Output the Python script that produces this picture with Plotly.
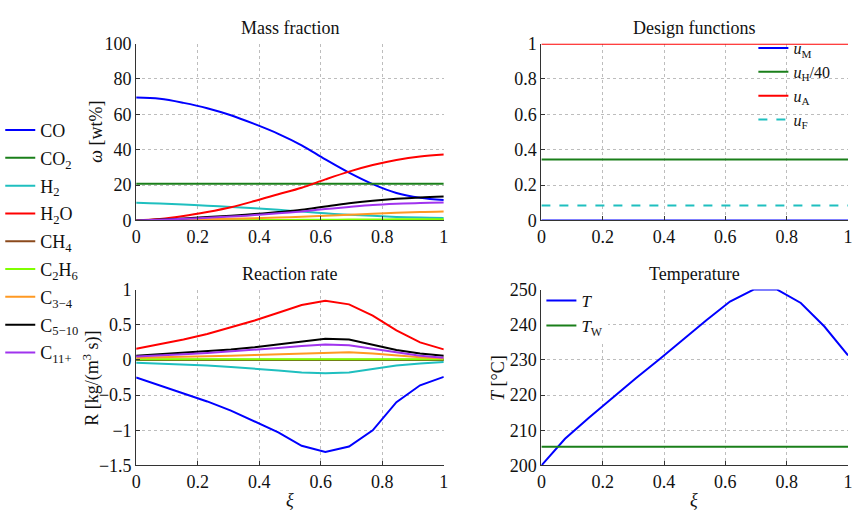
import plotly.graph_objects as go

# Axial coordinate (collocation nodes)
xi = [0.0, 0.077, 0.154, 0.231, 0.308, 0.385, 0.462, 0.538, 0.615, 0.692, 0.769, 0.846, 0.923, 1.0]

species = ["CO", "CO<sub>2</sub>", "H<sub>2</sub>", "H<sub>2</sub>O", "CH<sub>4</sub>",
           "C<sub>2</sub>H<sub>6</sub>", "C<sub>3−4</sub>", "C<sub>5−10</sub>", "C<sub>11+</sub>"]
colors = ["#0000ff", "#1a7f1a", "#1fbfbf", "#ff0000", "#8b4a1c",
          "#80ff00", "#ff9922", "#000000", "#a033ee"]

# Mass fractions [wt%]
w_CO    = [69.5, 68.8, 66.5, 63.5, 59.5, 54.5, 49.0, 42.5, 34.5, 27.0, 20.5, 15.5, 12.8, 11.5]
w_CO2   = [20.7] * 14
w_H2    = [10.0, 9.6, 9.0, 8.3, 7.6, 6.9, 6.0, 5.0, 4.0, 3.2, 2.6, 2.0, 1.6, 1.4]
w_H2O   = [0.0, 0.8, 2.5, 4.8, 7.5, 11.0, 14.8, 18.5, 23.2, 27.6, 31.3, 34.2, 36.2, 37.3]
w_CH4   = [0.0, 0.01, 0.02, 0.04, 0.06, 0.08, 0.1, 0.12, 0.15, 0.18, 0.2, 0.22, 0.24, 0.25]
w_C2H6  = [0.0, 0.03, 0.07, 0.1, 0.15, 0.2, 0.25, 0.32, 0.4, 0.48, 0.55, 0.62, 0.67, 0.7]
w_C34   = [0.0, 0.15, 0.35, 0.6, 0.9, 1.2, 1.6, 2.1, 2.6, 3.2, 3.8, 4.3, 4.8, 5.1]
w_C510  = [0.0, 0.5, 1.1, 1.9, 2.7, 3.6, 4.7, 6.0, 7.9, 9.7, 11.1, 12.2, 13.0, 13.6]
w_C11   = [0.0, 0.4, 0.9, 1.5, 2.2, 3.0, 4.0, 5.1, 6.4, 7.6, 8.7, 9.4, 9.9, 10.1]

# Reaction rates [kg/(m^3 s)]
r_CO    = [-0.25, -0.36, -0.47, -0.59, -0.72, -0.87, -1.03, -1.22, -1.31, -1.23, -1.0, -0.6, -0.36, -0.24]
r_CO2   = [0.0] * 14
r_H2    = [-0.04, -0.05, -0.065, -0.08, -0.1, -0.12, -0.15, -0.18, -0.19, -0.18, -0.13, -0.08, -0.05, -0.03]
r_H2O   = [0.16, 0.22, 0.29, 0.37, 0.46, 0.56, 0.67, 0.78, 0.84, 0.79, 0.63, 0.42, 0.25, 0.15]
r_CH4   = [0.003, 0.003, 0.004, 0.004, 0.005, 0.005, 0.006, 0.007, 0.008, 0.008, 0.007, 0.005, 0.004, 0.003]
r_C2H6  = [0.01, 0.01, 0.011, 0.012, 0.013, 0.014, 0.015, 0.017, 0.018, 0.018, 0.016, 0.013, 0.011, 0.01]
r_C34   = [0.03, 0.035, 0.04, 0.05, 0.06, 0.07, 0.08, 0.1, 0.11, 0.11, 0.09, 0.06, 0.04, 0.02]
r_C510  = [0.06, 0.08, 0.1, 0.12, 0.15, 0.18, 0.22, 0.27, 0.30, 0.29, 0.22, 0.14, 0.09, 0.06]
r_C11   = [0.05, 0.06, 0.08, 0.1, 0.12, 0.14, 0.17, 0.20, 0.22, 0.21, 0.16, 0.1, 0.06, 0.03]

# Design functions (constant along the reactor)
xi_ends = [0.0, 1.0]
u_M, u_H40, u_A, u_F = 0.0, 0.345, 1.0, 0.085

# Temperatures [°C]
T  = [200.0, 207.6, 213.5, 219.2, 224.8, 230.2, 235.8, 241.3, 246.6, 250.0, 250.0, 246.2, 239.5, 231.3]
T_W = 205.3

w_all = [w_CO, w_CO2, w_H2, w_H2O, w_CH4, w_C2H6, w_C34, w_C510, w_C11]
r_all = [r_CO, r_CO2, r_H2, r_H2O, r_CH4, r_C2H6, r_C34, r_C510, r_C11]

FONT = "Liberation Serif, Times New Roman, serif"
W, H = 855, 511

fig = go.Figure()

for i, (name, col, w) in enumerate(zip(species, colors, w_all)):
    fig.add_trace(go.Scatter(x=xi, y=w, mode="lines", name=name, line=dict(color=col, width=2, shape="spline"),
                             xaxis="x", yaxis="y", legend="legend", legendgroup=f"g{i}"))
for name, col, r in zip(species, colors, r_all):
    fig.add_trace(go.Scatter(x=xi, y=r, mode="lines", name=name, line=dict(color=col, width=2),
                             xaxis="x3", yaxis="y3", showlegend=False))

design = [("<i>u</i><sub>M</sub>", "#0000ff", u_M, "solid"),
          ("<i>u</i><sub>H</sub>/40", "#1a7f1a", u_H40, "solid"),
          ("<i>u</i><sub>A</sub>", "#ff0000", u_A, "solid"),
          ("<i>u</i><sub>F</sub>", "#1fbfbf", u_F, "dash")]
for j, (name, col, val, dash) in enumerate(design):
    fig.add_trace(go.Scatter(x=xi_ends, y=[val, val], mode="lines", name=name,
                             line=dict(color=col, width=2, dash=dash),
                             xaxis="x2", yaxis="y2", legend="legend2", legendgroup=f"d{j}"))

fig.add_trace(go.Scatter(x=xi, y=T, mode="lines", name="<i>T</i>", line=dict(color="#0000ff", width=2),
                         xaxis="x4", yaxis="y4", legend="legend3", legendgroup="t0"))
fig.add_trace(go.Scatter(x=xi_ends, y=[T_W, T_W], mode="lines", name="<i>T</i><sub>W</sub>",
                         line=dict(color="#1a7f1a", width=2),
                         xaxis="x4", yaxis="y4", legend="legend3", legendgroup="t1"))

# Plot-area geometry in pixels
left_dom = [131 / W, 443 / W]
right_dom = [542 / W, 853 / W]
top_dom = [1 - 219 / H, 1 - 35 / H]
bot_dom = [1 - 474 / H, 1 - 291 / H]

def ax(domain, anchor, rng, dtick):
    return dict(domain=domain, anchor=anchor, range=rng, dtick=dtick, tick0=0,
                showline=True, linecolor="#333333", linewidth=1, mirror=False,
                ticks="inside", ticklen=4, tickcolor="#333333",
                showgrid=True, gridcolor="#bdbdbd", griddash="dot", gridwidth=1,
                zeroline=False, tickfont=dict(family=FONT, size=18, color="#111111"))

def legend_style(size, bg="white"):
    return dict(bgcolor=bg, borderwidth=0, font=dict(family=FONT, size=size, color="#111111"),
                xanchor="left", yanchor="top")

fig.update_layout(
    width=W, height=H, margin=dict(l=0, r=0, t=0, b=0),
    paper_bgcolor="white", plot_bgcolor="white",
    font=dict(family=FONT, size=17, color="#111111"),
    xaxis=ax(left_dom, "y", [0, 1], 0.2),
    yaxis=ax(top_dom, "x", [0, 100], 20),
    xaxis2=ax(right_dom, "y2", [0, 1], 0.2),
    yaxis2=ax(top_dom, "x2", [0, 1], 0.2),
    xaxis3=ax(left_dom, "y3", [0, 1], 0.2),
    yaxis3=ax(bot_dom, "x3", [-1.5, 1], 0.5),
    xaxis4=ax(right_dom, "y4", [0, 1], 0.2),
    yaxis4=ax(bot_dom, "x4", [200, 250], 10),
    legend=dict(x=-0.008, y=1 - 106 / H, tracegroupgap=1.4, **legend_style(18)),
    legend2=dict(x=757 / W, y=1 - 22 / H, tracegroupgap=0, **legend_style(16, "rgba(255,255,255,0)")),
    legend3=dict(x=542 / W, y=1 - 284 / H, tracegroupgap=0, **legend_style(17)),
)

annots = [
    ("Mass fraction", 287, 19, 0),
    ("Design functions", 697, 19, 0),
    ("Reaction rate", 287, 275, 0),
    ("Temperature", 697, 275, 0),
    ("<i>ω</i> [wt%]", 90, 127, -90),
    ("R [kg/(m<sup>3</sup> s)]", 86, 383, -90),
    ("<i>T</i> [°C]", 498, 383, -90),
    ("<i>ξ</i>", 287, 510, 0),
    ("<i>ξ</i>", 697, 510, 0),
]
for text, px, py, ang in annots:
    fig.add_annotation(text=text, x=px / W, y=1 - py / H, xref="paper", yref="paper",
                       showarrow=False, textangle=ang, xanchor="center", yanchor="middle",
                       font=dict(family=FONT, size=18, color="#111111"))

fig.write_html("out.html")
